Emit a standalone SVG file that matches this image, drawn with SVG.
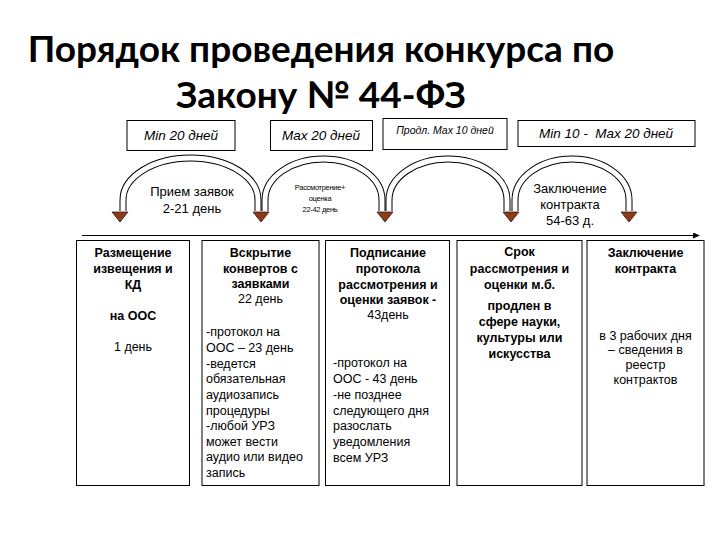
<svg xmlns="http://www.w3.org/2000/svg" width="720" height="540" viewBox="0 0 720 540">
<defs>
<style>
.title{font-family:Lato,"Open Sans","Liberation Sans",sans-serif;font-weight:bold;font-size:37px;fill:#000;text-anchor:middle}
.box{fill:#fff;stroke:#000;stroke-width:1}
.it{font-family:"Liberation Sans",Arial,sans-serif;font-style:italic;font-size:13.5px;text-anchor:middle;fill:#000}
.b{font-family:"Liberation Sans",Arial,sans-serif;font-weight:bold;font-size:12.5px;text-anchor:middle;fill:#000}
.n{font-family:"Liberation Sans",Arial,sans-serif;font-size:12.5px;fill:#000}
.c{text-anchor:middle}
.lbl{font-family:"Liberation Sans",Arial,sans-serif;font-size:13px;text-anchor:middle;fill:#000}
.sm{font-family:"Liberation Sans",Arial,sans-serif;font-size:7.5px;text-anchor:middle;fill:#000;letter-spacing:-0.3px}
.arcO{fill:none;stroke:#000;stroke-width:7}
.arcI{fill:none;stroke:#fff;stroke-width:5}
.tri{fill:#8b3a1a;stroke:#3a160a;stroke-width:0.8}
</style>
<marker id="ah" markerWidth="8" markerHeight="8" refX="6" refY="3" orient="auto" markerUnits="userSpaceOnUse">
<path d="M0,0 L7,3 L0,6 Z" fill="#000"/>
</marker>
</defs>
<rect width="720" height="540" fill="#fff"/>

<g id="title">
<text class="title" x="321" y="62">Порядок проведения конкурса по</text>
<text class="title" x="321" y="108">Закону № 44-ФЗ</text>
</g>

<g id="top-boxes">
<g id="t1"><rect class="box" x="127" y="120.5" width="108" height="30"/><text class="it" x="181" y="140">Min 20 дней</text></g>
<g id="t2"><rect class="box" x="270.5" y="120.5" width="102" height="30"/><text class="it" x="321" y="140">Max 20 дней</text></g>
<g id="t3"><rect class="box" x="383" y="118.5" width="124" height="31"/><text class="it" x="445" y="134" style="font-size:10.5px">Продл. Max 10 дней</text></g>
<g id="t4"><rect class="box" x="518" y="120.5" width="177" height="26"/><text class="it" x="606" y="138" xml:space="preserve">Min 10 -  Max 20 дней</text></g>
</g>

<g id="connectors">
<path class="arcO" d="M123,211 L123,200 A67.5,42 0 0 1 258,200 L258,211"/>
<path class="arcI" d="M123,212 L123,200 A67.5,42 0 0 1 258,200 L258,212"/>
<path class="arcO" d="M265,211 L265,200 A58.5,41 0 0 1 382,200 L382,211"/>
<path class="arcI" d="M265,212 L265,200 A58.5,41 0 0 1 382,200 L382,212"/>
<path class="arcO" d="M389,211 L389,200 A59,41 0 0 1 507,200 L507,211"/>
<path class="arcI" d="M389,212 L389,200 A59,41 0 0 1 507,200 L507,212"/>
<path class="arcO" d="M515,211 L515,200 A57,41 0 0 1 629,200 L629,211"/>
<path class="arcI" d="M515,212 L515,200 A57,41 0 0 1 629,200 L629,212"/>
<polygon class="tri" points="112,212 128,212 120,222"/>
<polygon class="tri" points="253,212 269,212 261,222"/>
<polygon class="tri" points="377,212 393,212 385,222"/>
<polygon class="tri" points="503,212 519,212 511,222"/>
<polygon class="tri" points="621,212 637,212 629,222"/>
<line x1="82" y1="235.5" x2="699" y2="235.5" stroke="#000" stroke-width="1.2" marker-end="url(#ah)"/>
</g>

<g id="arc-labels">
<text class="lbl" x="192" y="196">Прием заявок</text>
<text class="lbl" x="192" y="213">2-21 день</text>
<text class="sm" x="320" y="190">Рассмотрение+</text>
<text class="sm" x="320" y="201">оценка</text>
<text class="sm" x="320" y="212">22-42 день</text>
<text class="lbl" x="570" y="193">Заключение</text>
<text class="lbl" x="570" y="209">контракта</text>
<text class="lbl" x="570" y="225">54-63 д.</text>
</g>

<g id="box1">
<rect class="box" x="76.5" y="240.5" width="113" height="245"/>
<text class="b" x="133" y="257">Размещение</text>
<text class="b" x="133" y="273">извещения и</text>
<text class="b" x="133" y="289">КД</text>
<text class="b" x="133" y="320">на ООС</text>
<text class="n c" x="133" y="351">1 день</text>
</g>

<g id="box2">
<rect class="box" x="202" y="240.5" width="117" height="245"/>
<text class="b" x="260.5" y="257">Вскрытие</text>
<text class="b" x="260.5" y="273">конвертов с</text>
<text class="b" x="260.5" y="288">заявками</text>
<text class="n c" x="260.5" y="303">22 день</text>
<text class="n" x="206" y="336">-протокол на</text>
<text class="n" x="206" y="352">ООС – 23 день</text>
<text class="n" x="206" y="368">-ведется</text>
<text class="n" x="206" y="383">обязательная</text>
<text class="n" x="206" y="399">аудиозапись</text>
<text class="n" x="206" y="415">процедуры</text>
<text class="n" x="206" y="430">-любой УРЗ</text>
<text class="n" x="206" y="446">может вести</text>
<text class="n" x="206" y="461">аудио или видео</text>
<text class="n" x="206" y="477">запись</text>
</g>

<g id="box3">
<rect class="box" x="325.5" y="240.5" width="124" height="245"/>
<text class="b" x="388" y="257">Подписание</text>
<text class="b" x="388" y="273">протокола</text>
<text class="b" x="388" y="289">рассмотрения и</text>
<text class="b" x="388" y="304">оценки заявок -</text>
<text class="n c" x="388" y="319">43день</text>
<text class="n" x="333" y="367">-протокол на</text>
<text class="n" x="333" y="383">ООС - 43 день</text>
<text class="n" x="333" y="399">-не позднее</text>
<text class="n" x="333" y="415">следующего дня</text>
<text class="n" x="333" y="430">разослать</text>
<text class="n" x="333" y="446">уведомления</text>
<text class="n" x="333" y="462">всем УРЗ</text>
</g>

<g id="box4">
<rect class="box" x="457" y="240.5" width="125" height="245"/>
<text class="b" x="519.5" y="256">Срок</text>
<text class="b" x="519.5" y="273">рассмотрения и</text>
<text class="b" x="519.5" y="289">оценки м.б.</text>
<text class="b" x="519.5" y="310">продлен в</text>
<text class="b" x="519.5" y="326">сфере науки,</text>
<text class="b" x="519.5" y="342">культуры или</text>
<text class="b" x="519.5" y="358">искусства</text>
</g>

<g id="box5">
<rect class="box" x="587" y="240.5" width="117" height="245"/>
<text class="b" x="645.5" y="257">Заключение</text>
<text class="b" x="645.5" y="273">контракта</text>
<text class="n c" x="645.5" y="340">в 3 рабочих дня</text>
<text class="n c" x="645.5" y="354">– сведения в</text>
<text class="n c" x="645.5" y="369">реестр</text>
<text class="n c" x="645.5" y="384">контрактов</text>
</g>
</svg>
